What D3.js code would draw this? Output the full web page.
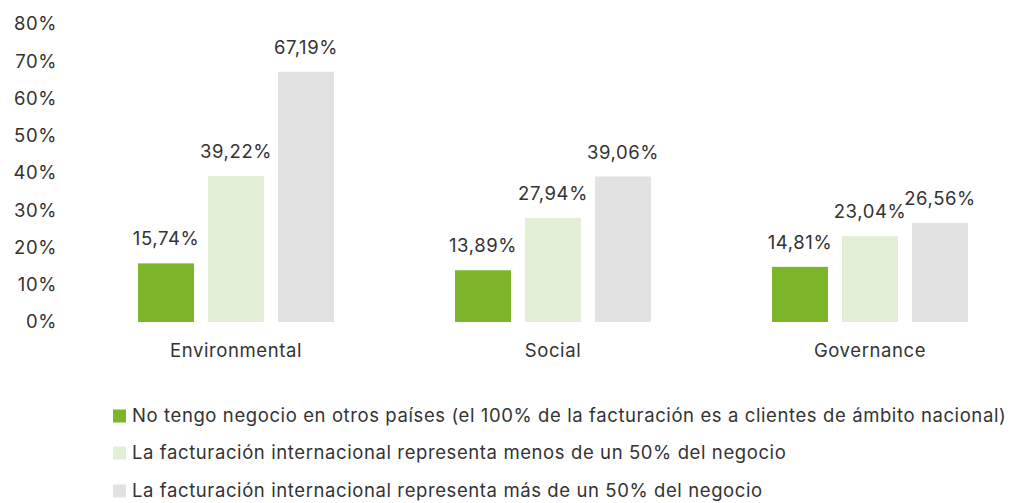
<!DOCTYPE html>
<html>
<head>
<meta charset="utf-8">
<script src="https://cdn.jsdelivr.net/npm/d3@7/dist/d3.min.js"></script>
<style>
  html, body { margin: 0; padding: 0; background: #ffffff; }
  svg text { font-family: Inter, "Open Sans", sans-serif; fill: #333333; letter-spacing: 0.6px; }
</style>
</head>
<body>
<svg id="chart" width="1016" height="503"></svg>
<script>
// Chart data
const categories = ["Environmental", "Social", "Governance"];
const seriesNames = [
  "No tengo negocio en otros países (el 100% de la facturación es a clientes de ámbito nacional)",
  "La facturación internacional representa menos de un 50% del negocio",
  "La facturación internacional representa más de un 50% del negocio"
];
const noNegocio = [15.74, 13.89, 14.81];
const menos50 = [39.22, 27.94, 23.04];
const mas50 = [67.19, 39.06, 26.56];
const yTicks = [0, 10, 20, 30, 40, 50, 60, 70, 80];
const colors = ["#7db52a", "#e3efd5", "#e2e2e2"];

const series = [noNegocio, menos50, mas50];

const svg = d3.select("#chart");
const fontSize = 18.5;

const x0 = d3.scaleBand().domain(categories).range([77.5, 1028.5]).padding(0);
const groupWidth = 196;
const inner = d3.scaleBand().domain(d3.range(series.length))
  .range([0, groupWidth]).paddingInner(0.2).paddingOuter(0);
const y = d3.scaleLinear().domain([0, 80]).range([322, 24]);

// y axis labels (no axis line, no tick marks)
const yAxis = d3.axisLeft(y).tickValues(yTicks).tickFormat(d => d + "%").tickSize(0).tickPadding(0);
const gy = svg.append("g").attr("transform", "translate(57,0)").call(yAxis);
gy.select(".domain").remove();
gy.selectAll("text").attr("font-size", fontSize).attr("font-family", null).attr("fill", "#333333");

// grouped bars
const groups = svg.append("g").selectAll("g")
  .data(categories)
  .join("g")
  .attr("transform", c => `translate(${x0(c) + x0.bandwidth() / 2 - groupWidth / 2},0)`);

groups.each(function (c, ci) {
  const g = d3.select(this);
  series.forEach((s, si) => {
    const v = s[ci];
    g.append("rect")
      .attr("x", inner(si))
      .attr("width", inner.bandwidth())
      .attr("y", y(v))
      .attr("height", y(0) - y(v))
      .attr("fill", colors[si]);
    g.append("text")
      .attr("x", inner(si) + inner.bandwidth() / 2)
      .attr("y", y(v) - 18)
      .attr("text-anchor", "middle")
      .attr("font-size", fontSize)
      .text(v.toFixed(2).replace(".", ",") + "%");
  });
});

// category labels
const xAxis = d3.axisBottom(x0).tickSize(0).tickPadding(0);
const gx = svg.append("g").attr("transform", "translate(0,344)").call(xAxis);
gx.select(".domain").remove();
gx.selectAll("text").attr("font-size", fontSize).attr("font-family", null).attr("fill", "#333333");

// legend
const legend = svg.append("g").attr("transform", "translate(113,0)");
const legendY = [416, 453, 491];
seriesNames.forEach((name, i) => {
  legend.append("rect")
    .attr("x", 0).attr("y", legendY[i] - 6.5)
    .attr("width", 13).attr("height", 13)
    .attr("fill", colors[i]);
  legend.append("text")
    .attr("x", 19).attr("y", legendY[i])
    .attr("dy", "0.35em")
    .attr("font-size", fontSize)
    .text(name);
});
</script>
</body>
</html>
